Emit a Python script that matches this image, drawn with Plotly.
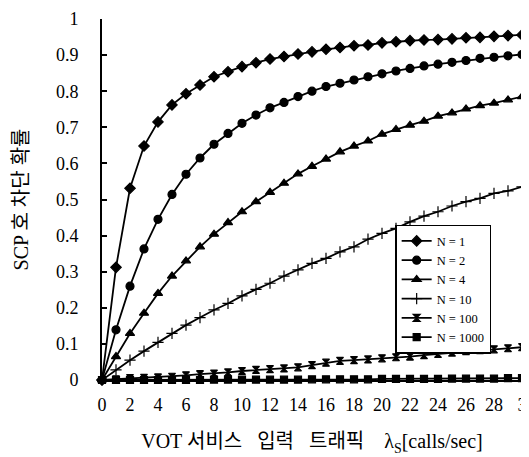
import plotly.graph_objects as go

x_vals = list(range(0, 31))

n1 = [0.0, 0.312, 0.531, 0.648, 0.715, 0.762, 0.793, 0.817, 0.840, 0.854, 0.868,
      0.879, 0.889, 0.896, 0.903, 0.909, 0.916, 0.921, 0.926, 0.928, 0.934,
      0.937, 0.940, 0.942, 0.943, 0.945, 0.948, 0.949, 0.952, 0.954, 0.956]
n2 = [0.0, 0.139, 0.260, 0.363, 0.445, 0.514, 0.570, 0.615, 0.653, 0.683, 0.711,
      0.734, 0.754, 0.769, 0.785, 0.800, 0.813, 0.822, 0.831, 0.840, 0.848,
      0.856, 0.863, 0.870, 0.875, 0.880, 0.885, 0.891, 0.894, 0.898, 0.902]
n4 = [0.0, 0.065, 0.129, 0.185, 0.240, 0.288, 0.330, 0.369, 0.404, 0.436, 0.466,
      0.494, 0.520, 0.545, 0.571, 0.592, 0.612, 0.632, 0.648, 0.662, 0.681,
      0.694, 0.706, 0.717, 0.731, 0.740, 0.751, 0.760, 0.767, 0.776, 0.785]
n10 = [0.0, 0.028, 0.055, 0.080, 0.104, 0.129, 0.152, 0.173, 0.194, 0.212, 0.233,
       0.251, 0.268, 0.288, 0.305, 0.323, 0.337, 0.355, 0.369, 0.390, 0.406,
       0.420, 0.438, 0.454, 0.466, 0.482, 0.494, 0.503, 0.517, 0.524, 0.535]
n100 = [0.0, 0.002, 0.005, 0.006, 0.007, 0.009, 0.013, 0.016, 0.018, 0.021, 0.025,
        0.028, 0.030, 0.032, 0.035, 0.041, 0.048, 0.053, 0.055, 0.057, 0.060,
        0.063, 0.065, 0.069, 0.072, 0.076, 0.080, 0.083, 0.085, 0.088, 0.091]
n1000 = [0.0, 0.0, 0.0, 0.0, 0.0, 0.0, 0.0, 0.0, 0.001, 0.001, 0.001,
         0.001, 0.001, 0.001, 0.001, 0.002, 0.002, 0.002, 0.002, 0.002, 0.003,
         0.003, 0.003, 0.003, 0.003, 0.004, 0.004, 0.004, 0.004, 0.005, 0.005]

series_names = ["N = 1", "N = 2", "N = 4", "N = 10", "N = 100", "N = 1000"]
series_values = [n1, n2, n4, n10, n100, n1000]
symbols = ["diamond", "circle", "triangle-up", "cross-thin", "hourglass", "square"]
sizes = [8, 8, 8, 8, 7, 7]

x_tickvals = list(range(0, 31, 2))
x_ticktext = ["0", "2", "4", "6", "8", "10", "12", "14", "16", "18", "20",
              "22", "24", "26", "28", "3"]
y_tickvals = [0, 0.1, 0.2, 0.3, 0.4, 0.5, 0.6, 0.7, 0.8, 0.9, 1]
y_ticktext = ["0", "0.1", "0.2", "0.3", "0.4", "0.5", "0.6", "0.7", "0.8", "0.9", "1"]

SERIF = "Liberation Serif"
KFONT = "Liberation Serif, Noto Sans CJK KR"

fig = go.Figure()
for name, vals, sym, sz in zip(series_names, series_values, symbols, sizes):
    fig.add_trace(go.Scatter(
        x=x_vals, y=vals, name=name, mode="lines+markers",
        line=dict(color="black", width=1.8),
        marker=dict(symbol=sym, size=sz, color="black",
                    line=dict(color="black", width=1.2)),
        cliponaxis=False,
    ))

# page body has an 8px margin: the figure is offset by (8, 8)
fig.update_layout(
    width=521, height=449,
    margin=dict(l=94, r=7, t=11, b=77),
    paper_bgcolor="white", plot_bgcolor="white",
    font=dict(family=SERIF, size=18, color="black"),
    showlegend=True,
    legend=dict(
        x=0.698, y=0.43, xanchor="left", yanchor="top",
        bgcolor="white", bordercolor="black", borderwidth=1.5,
        font=dict(family=SERIF, size=12.5, color="black"),
        tracegroupgap=0, itemwidth=30,
    ),
)
fig.update_xaxes(
    range=[0, 30], tickvals=x_tickvals, ticktext=x_ticktext,
    showgrid=False, zeroline=False, showline=True, linecolor="black", linewidth=1.5,
    ticks="", tickfont=dict(family=SERIF, size=18), automargin=False,
    ticklabelstandoff=8,
    title=dict(text="VOT 서비스   입력   트래픽    λ<sub>S</sub>[calls/sec]",
               font=dict(family=KFONT, size=20), standoff=20),
)
fig.update_yaxes(
    range=[0, 1], tickvals=y_tickvals, ticktext=y_ticktext,
    showgrid=False, zeroline=False, showline=True, linecolor="black", linewidth=2,
    ticks="inside", ticklen=5, tickwidth=1.5, tickcolor="black",
    tickfont=dict(family=SERIF, size=18), automargin=False,
    ticklabelstandoff=18,
    title=dict(text="SCP 호 차단 확률", font=dict(family=KFONT, size=20), standoff=22),
)

fig.write_html("out.html")
